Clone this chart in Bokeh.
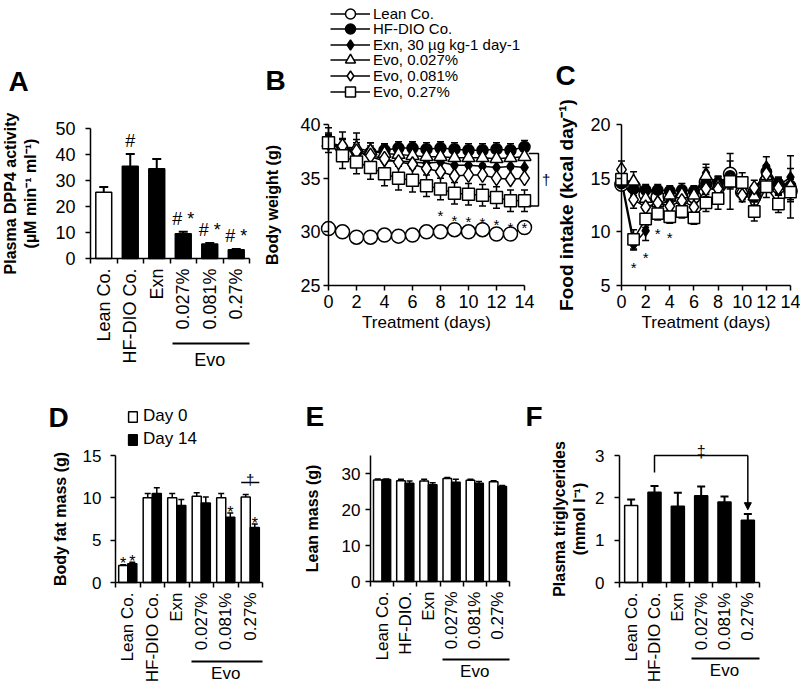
import math
from bokeh.plotting import figure
from bokeh.models import (LinearAxis, FixedTicker, Range1d, Label, Legend, LegendItem,
                          Arrow, NormalHead, Grid)
from bokeh.layouts import row, column
from bokeh.embed import file_html
from bokeh.resources import INLINE
from bokeh.core.properties import value

FONT = "Liberation Sans"

# ---------------- data ----------------
groups = ["Lean Co.", "HF-DIO Co.", "Exn", "0.027%", "0.081%", "0.27%"]
groups_e = ["Lean Co.", "HF-DIO.", "Exn", "0.027%", "0.081%", "0.27%"]
evo_text = "Evo"

# A: plasma DPP4 activity
dpp4_mean = [25.5, 35.5, 34.5, 9.5, 5.6, 3.4]
dpp4_err = [2.0, 4.7, 3.8, 0.8, 0.4, 0.3]
dpp4_sig = ["", "#", "", "# *", "# *", "# *"]
dpp4_ticks = [0, 10, 20, 30, 40, 50]

# B / C: time courses
days = [0, 1, 2, 3, 4, 5, 6, 7, 8, 9, 10, 11, 12, 13, 14]
day_ticks = [0, 2, 4, 6, 8, 10, 12, 14]
series_names = ["Lean Co.", "HF-DIO Co.", "Exn, 30 \u00b5g kg-1 day-1",
                "Evo, 0.027%", "Evo, 0.081%", "Evo, 0.27%"]

bw_lean = [30.3, 30.0, 29.5, 29.5, 29.7, 29.6, 29.7, 30.0, 30.0, 30.2, 30.0, 30.2, 29.8, 29.8, 30.4]
bw_hf = [38.3, 37.6, 37.5, 37.4, 37.6, 37.8, 37.8, 37.7, 37.8, 37.7, 37.6, 37.6, 37.7, 37.6, 37.9]
bw_exn = [38.3, 37.8, 37.5, 37.0, 36.6, 36.6, 36.5, 36.4, 36.5, 36.2, 36.2, 36.1, 36.0, 36.1, 36.0]
bw_e027 = [38.3, 37.9, 37.8, 37.5, 37.3, 37.2, 37.1, 37.0, 37.0, 36.9, 36.9, 36.9, 36.8, 36.9, 37.0]
bw_e081 = [38.3, 38.0, 37.5, 37.1, 36.8, 36.5, 36.3, 35.9, 35.6, 35.2, 35.3, 35.3, 35.0, 34.9, 35.0]
bw_e27 = [38.3, 37.1, 36.5, 36.0, 35.4, 35.0, 34.8, 34.3, 34.0, 33.6, 33.5, 33.4, 33.2, 32.9, 32.9]
bw_err_lean = [0.4, 0.4, 0.4, 0.4, 0.4, 0.4, 0.4, 0.4, 0.4, 0.4, 0.4, 0.4, 0.4, 0.4, 0.4]
bw_err_hf = [0.5, 0.6, 0.6, 0.6, 0.6, 0.6, 0.6, 0.6, 0.6, 0.6, 0.6, 0.6, 0.6, 0.6, 0.6]
bw_err_exn = [0.7, 0.8, 0.8, 0.8, 0.8, 0.8, 0.8, 0.8, 0.8, 0.8, 0.8, 0.8, 0.8, 0.8, 0.8]
bw_err_e027 = [0.8, 0.8, 0.8, 0.8, 0.8, 0.8, 0.8, 0.8, 0.8, 0.8, 0.8, 0.8, 0.8, 0.8, 0.8]
bw_err_e081 = [1.4, 1.3, 1.7, 1.2, 1.1, 1.1, 1.1, 1.1, 1.1, 1.0, 1.0, 1.0, 1.0, 1.0, 1.0]
bw_err_e27 = [0.9, 1.2, 1.1, 1.1, 1.1, 1.1, 1.1, 1.0, 1.0, 1.0, 1.0, 1.0, 1.0, 1.0, 1.0]
bw_star_days = [8, 9, 10, 11, 12, 13, 14]
bw_ticks = [25, 30, 35, 40]

fi_lean = [14.4, 14.2, 13.5, 13.2, 13.3, 13.1, 13.3, 14.6, 14.4, 15.4, 13.7, 13.5, 14.7, 14.2, 13.8]
fi_hf = [14.5, 14.0, 13.9, 13.9, 13.8, 13.9, 13.8, 14.5, 14.5, 15.2, 14.4, 13.5, 15.6, 14.5, 14.3]
fi_exn = [14.6, 8.8, 10.1, 12.5, 12.9, 13.3, 13.5, 15.5, 14.2, 15.0, 14.0, 13.6, 16.1, 14.3, 15.1]
fi_e027 = [14.8, 14.7, 13.1, 12.7, 13.4, 13.5, 13.4, 15.2, 14.3, 14.9, 13.9, 13.3, 15.2, 14.3, 14.0]
fi_e081 = [15.8, 13.0, 12.3, 12.7, 12.4, 12.9, 12.3, 14.0, 14.0, 14.8, 13.4, 14.1, 15.4, 14.1, 14.2]
fi_e27 = [14.9, 9.3, 11.2, 11.7, 11.4, 11.9, 11.3, 12.7, 13.1, 14.7, 14.6, 11.9, 14.2, 12.6, 13.7]
fi_err_lean = [0.5, 0.6, 0.6, 0.6, 0.6, 0.6, 0.6, 0.7, 0.7, 1.2, 0.7, 0.7, 0.8, 0.7, 0.8]
fi_err_hf = [0.6, 0.6, 0.5, 0.5, 0.5, 0.6, 0.5, 0.8, 0.6, 0.7, 0.5, 0.6, 0.6, 0.6, 0.6]
fi_err_exn = [0.7, 0.5, 0.9, 0.8, 0.7, 0.7, 0.7, 0.8, 0.7, 0.8, 0.7, 0.7, 0.9, 0.7, 0.8]
fi_err_e027 = [0.7, 0.9, 0.8, 0.7, 0.7, 0.7, 0.7, 0.8, 0.9, 0.8, 0.7, 0.8, 0.8, 0.7, 0.7]
fi_err_e081 = [0.8, 0.8, 0.7, 0.7, 0.7, 0.7, 0.7, 0.7, 0.8, 0.8, 0.6, 0.7, 0.8, 0.7, 2.9]
fi_err_e27 = [0.8, 0.9, 0.8, 0.6, 0.6, 0.6, 0.6, 0.8, 1.0, 2.6, 0.9, 0.9, 1.0, 0.8, 0.9]
fi_star_exn_days = [1, 2]
fi_star_e27_days = [3, 4]
fi_ticks = [5, 10, 15, 20]

# D: body fat mass
fat_d0 = [2.0, 10.0, 10.0, 10.2, 10.0, 10.1]
fat_d0_err = [0.1, 0.5, 0.5, 0.4, 0.5, 0.3]
fat_d14 = [2.2, 10.5, 9.1, 9.4, 7.7, 6.5]
fat_d14_err = [0.2, 0.7, 0.7, 0.7, 0.5, 0.4]
fat_sig_d0 = ["*", "", "", "", "", ""]
fat_sig_d14 = ["*", "", "", "", "*", "*"]
fat_ticks = [0, 5, 10, 15]
day_labels = ["Day 0", "Day 14"]

# E: lean mass
lean_d0 = [28.2, 28.0, 27.9, 28.6, 28.1, 27.7]
lean_d0_err = [0.3, 0.4, 0.5, 0.3, 0.3, 0.3]
lean_d14 = [28.3, 27.3, 26.9, 27.6, 27.3, 26.4]
lean_d14_err = [0.2, 0.6, 0.5, 0.8, 0.5, 0.3]
lean_ticks = [0, 10, 20, 30]

# F: plasma triglycerides
tg_mean = [1.82, 2.13, 1.80, 2.05, 1.90, 1.47]
tg_err = [0.14, 0.15, 0.32, 0.22, 0.13, 0.15]
tg_ticks = [0, 1, 2, 3]


# ---------------- helpers ----------------
def val(px, va, pa, vb, pb):
    return va + (px - pa) * (vb - va) / (pb - pa)


class Panel:
    def __init__(self, box, xmap, ymap):
        self.x0, self.y0, self.x1, self.y1 = box
        self.xmap, self.ymap = xmap, ymap
        p = figure(width=self.x1 - self.x0, height=self.y1 - self.y0,
                   x_range=Range1d(val(self.x0, *xmap), val(self.x1, *xmap)),
                   y_range=Range1d(val(self.y1, *ymap), val(self.y0, *ymap)),
                   min_border_left=0, min_border_right=0, min_border_top=0, min_border_bottom=0,
                   output_backend="svg", toolbar_location=None, tools="",
                   x_axis_location=None, y_axis_location=None)
        p.title.visible = False
        p.outline_line_color = None
        p.background_fill_color = "white"
        p.border_fill_color = "white"
        p.grid.grid_line_color = None
        p.grid.visible = False
        p.center = [c for c in p.center if not isinstance(c, Grid)]
        p.renderers = [r for r in p.renderers if not isinstance(r, Grid)]
        self.p = p

    def yv(self, px):
        return val(px, *self.ymap)

    def letter(self, txt, x_img, base_img):
        self.p.add_layout(Label(x=x_img - self.x0, y=self.y1 - base_img,
                                x_units="screen", y_units="screen", text=txt,
                                text_font=FONT, text_font_size="28px", text_font_style="bold",
                                text_baseline="alphabetic", text_color="black"))


def style_axis(ax, tick_size, label_size="16px", bold=True):
    ax.axis_line_width = 1.5
    ax.axis_line_color = "black"
    ax.major_tick_line_width = 1.5
    ax.major_tick_line_color = "black"
    ax.minor_tick_line_width = 1.5
    ax.minor_tick_line_color = "black"
    ax.major_tick_in = 0
    ax.major_tick_out = 5
    ax.minor_tick_in = 0
    ax.minor_tick_out = 0
    ax.major_label_text_font = FONT
    ax.major_label_text_font_size = tick_size
    ax.major_label_text_color = "black"
    ax.axis_label_text_font = FONT
    ax.axis_label_text_font_size = label_size
    ax.axis_label_text_font_style = "bold" if bold else "normal"
    ax.axis_label_text_color = "black"


def y_axis(p, ticks, bounds, label, tick_size, standoff, label_standoff, at=0, label_size="16px"):
    ax = LinearAxis(ticker=FixedTicker(ticks=ticks), bounds=bounds, axis_label=label,
                    fixed_location=at)
    style_axis(ax, tick_size, label_size)
    ax.major_label_standoff = standoff
    ax.axis_label_standoff = label_standoff
    p.add_layout(ax, "left")


def x_axis(p, ticks, bounds, label, tick_size, at):
    ax = LinearAxis(ticker=FixedTicker(ticks=ticks), bounds=bounds, axis_label=label,
                    fixed_location=at)
    style_axis(ax, tick_size, "17px", bold=False)
    ax.major_label_standoff = 4
    ax.axis_label_standoff = 2
    p.add_layout(ax, "below")


def cat_axes(p, labels, tick_size, evo_at, evo_bounds, evo_standoff):
    n = len(labels)
    centers = [i + 0.5 for i in range(n)]
    ax = LinearAxis(fixed_location=0, bounds=(0, n),
                    ticker=FixedTicker(ticks=centers, minor_ticks=list(range(n + 1))),
                    major_label_overrides={c: l for c, l in zip(centers, labels)},
                    major_label_orientation=math.pi / 2)
    style_axis(ax, tick_size)
    ax.major_tick_out = 0
    ax.minor_tick_out = 5
    ax.major_label_standoff = 5
    p.add_layout(ax, "below")
    mid = 4.5
    ev = LinearAxis(fixed_location=evo_at, bounds=evo_bounds, ticker=FixedTicker(ticks=[mid]),
                    major_label_overrides={mid: evo_text})
    style_axis(ev, tick_size)
    ev.axis_line_width = 2
    ev.major_tick_out = 0
    ev.major_label_standoff = evo_standoff
    p.add_layout(ev, "below")


def errbars(p, xs, ys, errs, mode, width=1.5, cap=8):
    hi = [y + e for y, e in zip(ys, errs)]
    lo = [y - e for y, e in zip(ys, errs)]
    y0 = lo if mode in ("both", "down") else ys
    y1 = hi if mode in ("both", "up") else ys
    p.segment(x0=xs, y0=y0, x1=xs, y1=y1, line_color="black", line_width=width)
    if mode in ("both", "up"):
        p.scatter(x=xs, y=hi, marker="dash", size=cap, line_color="black", line_width=width)
    if mode in ("both", "down"):
        p.scatter(x=xs, y=lo, marker="dash", size=cap, line_color="black", line_width=width)


def texts(p, xs, ys, txt, size="17px", baseline="alphabetic", align="center"):
    p.text(x=xs, y=ys, text=txt, text_font=value(FONT), text_font_size=value(size),
           text_baseline=baseline, text_align=align, text_color="#000000")


MARKERS = [("circle", 14, "white"), ("circle", 11, "black"), ("diamond", 11, "black"),
           ("triangle", 13, "white"), ("diamond", 15, "white"), ("square", 12, "white")]


def time_series(p, ys_list, err_list, modes, scale=1.0):
    for ys, es, m in zip(ys_list, err_list, modes):
        errbars(p, days, ys, es, m, width=1.5, cap=7)
    lines = [p.line(x=days, y=ys, line_color="black", line_width=1.5) for ys in ys_list]
    marks = []
    for ys, (mk, sz, fc) in zip(ys_list, MARKERS):
        marks.append(p.scatter(x=days, y=ys, marker=mk, size=sz * scale, fill_color=fc,
                               line_color="black", line_width=1.5))
    return lines, marks


centers = [i + 0.5 for i in range(len(groups))]
fills = ["white" if i == 0 else "black" for i in range(len(groups))]
EVO_B = (3.1, 6.0)
BW2 = 0.37
x_w = [c - BW2 / 2 for c in centers]
x_b = [c + BW2 / 2 for c in centers]

# ---------------- A ----------------
A = Panel((0, 0, 262, 400), (0, 90, 6, 249), (0, 258, 50, 128))
pa = A.p
pa.vbar(x=centers, top=dpp4_mean, width=0.6, fill_color=fills, line_color="black", line_width=1.5)
errbars(pa, centers, dpp4_mean, dpp4_err, "up", width=2, cap=9)
texts(pa, centers, [m + e + 5 for m, e in zip(dpp4_mean, dpp4_err)], dpp4_sig, size="18px")
y_axis(pa, dpp4_ticks, (0, 50), "Plasma DPP4 activity\n(\u00b5M min\u207b\u00b9 ml\u207b\u00b9)",
       "18px", 10, 13)
cat_axes(pa, groups, "18px", A.yv(343), EVO_B, 6)
A.letter("A", 8, 81)

# ---------------- B ----------------
B = Panel((262, 0, 552, 400), (0, 328, 14, 524), (25, 285, 40, 124))
pb = B.p
bw_all = [bw_lean, bw_hf, bw_exn, bw_e027, bw_e081, bw_e27]
bw_errs = [bw_err_lean, bw_err_hf, bw_err_exn, bw_err_e027, bw_err_e081, bw_err_e27]
lines_b, marks_b = time_series(pb, bw_all, bw_errs, ["both", "up", "up", "up", "up", "both"])
texts(pb, bw_star_days, [bw_e27[d] - bw_err_e27[d] - 1.5 for d in bw_star_days],
      ["*"] * len(bw_star_days), size="15px")
bx0, bx1 = days[-1] + 0.3, days[-1] + 1.0
btop, bbot = bw_hf[-1] - 0.6, bw_e27[-1] - 0.5
pb.line(x=[bx0, bx1, bx1, bx0], y=[btop, btop, bbot, bbot], line_color="black", line_width=1.5)
texts(pb, [bx1 + 0.55], [(btop + bbot) / 2], ["\u2020"], size="15px", baseline="middle")
y_axis(pb, bw_ticks, (25, 40), "Body weight (g)", "18px", 3, 16)
x_axis(pb, day_ticks, (0, 14), "Treatment (days)", "18px", 25)
# one legend per row so that rows can sit closer than the marker box
ROW_H, PITCH, FIRST = 25, 15.6, 13
for i, (n, l, m) in enumerate(zip(series_names, lines_b, marks_b)):
    lg = Legend(items=[LegendItem(label=n, renderers=[l, m])],
                location=(330 - B.x0, B.y1 - (FIRST + PITCH * i + ROW_H / 2)),
                margin=0, padding=0, spacing=0,
                glyph_width=40, glyph_height=ROW_H, label_height=ROW_H, label_standoff=3,
                border_line_color=None, background_fill_alpha=0,
                label_text_font=FONT, label_text_font_size="15px", label_text_color="black")
    pb.add_layout(lg)
B.letter("B", 265, 80)

# ---------------- C ----------------
C = Panel((552, 0, 800, 400), (0, 621, 14, 790), (5, 285, 20, 124))
pc = C.p
fi_all = [fi_lean, fi_hf, fi_exn, fi_e027, fi_e081, fi_e27]
fi_errs = [fi_err_lean, fi_err_hf, fi_err_exn, fi_err_e027, fi_err_e081, fi_err_e27]
time_series(pc, fi_all, fi_errs, ["both"] * 6, scale=0.95)
texts(pc, fi_star_exn_days, [fi_exn[d] - fi_err_exn[d] - 1.6 for d in fi_star_exn_days],
      ["*"] * len(fi_star_exn_days), size="15px")
texts(pc, fi_star_e27_days, [fi_e27[d] - fi_err_e27[d] - 1.3 for d in fi_star_e27_days],
      ["*"] * len(fi_star_e27_days), size="15px")
y_axis(pc, fi_ticks, (5, 20), "Food intake (kcal day\u207b\u00b9)", "18px", 6, 10,
       label_size="19px")
x_axis(pc, day_ticks, (0, 14), "Treatment (days)", "18px", 5)
C.letter("C", 555, 75)

# ---------------- D ----------------
D = Panel((0, 400, 270, 687), (0, 115, 6, 262), (0, 582, 15, 455))
pdd = D.p
rw = pdd.vbar(x=x_w, top=fat_d0, width=BW2, fill_color="white", line_color="black", line_width=1.5)
rb = pdd.vbar(x=x_b, top=fat_d14, width=BW2, fill_color="black", line_color="black", line_width=1.5)
errbars(pdd, x_w, fat_d0, fat_d0_err, "up", width=1.5, cap=6)
errbars(pdd, x_b, fat_d14, fat_d14_err, "up", width=1.5, cap=6)
texts(pdd, x_w, [m + e + 0.1 for m, e in zip(fat_d0, fat_d0_err)], fat_sig_d0, size="16px")
texts(pdd, x_b, [m + e + 0.1 for m, e in zip(fat_d14, fat_d14_err)], fat_sig_d14, size="16px")
dl, dr = x_w[5] - BW2 / 2, x_b[5] + BW2 / 2
dy = fat_d0[5] + fat_d0_err[5] + 1.4
pdd.line(x=[dl, dr], y=[dy, dy], line_color="black", line_width=1.5)
texts(pdd, [(dl + dr) / 2], [dy + 0.4], ["\u2020"], size="15px")
y_axis(pdd, fat_ticks, (0, 15), "Body fat mass (g)", "17px", 9, 11)
cat_axes(pdd, groups, "17px", D.yv(661), EVO_B, 2)
legd = Legend(items=[LegendItem(label=day_labels[0], renderers=[rw]),
                     LegendItem(label=day_labels[1], renderers=[rb])],
              location=(127 - D.x0, D.y1 - 449), margin=0, padding=0, spacing=3,
              glyph_width=11, glyph_height=13, label_height=13, label_standoff=5,
              border_line_color=None, background_fill_alpha=0,
              label_text_font=FONT, label_text_font_size="17px", label_text_color="black")
pdd.add_layout(legd)
D.letter("D", 48, 417)

# ---------------- E ----------------
E = Panel((270, 400, 522, 687), (0, 370, 6, 509), (0, 581, 30, 473))
pe = E.p
pe.vbar(x=x_w, top=lean_d0, width=BW2, fill_color="white", line_color="black", line_width=1.5)
pe.vbar(x=x_b, top=lean_d14, width=BW2, fill_color="black", line_color="black", line_width=1.5)
errbars(pe, x_w, lean_d0, lean_d0_err, "up", width=1.5, cap=6)
errbars(pe, x_b, lean_d14, lean_d14_err, "up", width=1.5, cap=6)
y_axis(pe, lean_ticks, (0, 35), "Lean mass (g)", "17px", 5, 18)
cat_axes(pe, groups_e, "17px", E.yv(659), EVO_B, 2)
E.letter("E", 305, 416)

# ---------------- F ----------------
F = Panel((522, 400, 800, 687), (0, 619, 6, 759), (0, 582, 3, 455))
pf = F.p
pf.vbar(x=centers, top=tg_mean, width=0.56, fill_color=fills, line_color="black", line_width=1.5)
errbars(pf, centers, tg_mean, tg_err, "up", width=2, cap=8)
fl_x, fr_x = centers[1], centers[5]
ftop = max(m + e for m, e in zip(tg_mean, tg_err)) + 0.72
pf.line(x=[fl_x, fl_x, fr_x], y=[tg_mean[1] + tg_err[1] + 0.32, ftop, ftop],
        line_color="black", line_width=1.5)
pf.add_layout(Arrow(end=NormalHead(size=7, fill_color="black", line_color="black"),
                    x_start=fr_x, y_start=ftop, x_end=fr_x, y_end=tg_mean[5] + tg_err[5] + 0.1,
                    line_color="black", line_width=1.5))
texts(pf, [(fl_x + fr_x) / 2], [ftop + 0.1], ["\u2021"], size="16px")
y_axis(pf, tg_ticks, (0, 3), "Plasma triglycerides\n(mmol l\u207b\u00b9)", "17px", 10, 4)
cat_axes(pf, groups, "17px", F.yv(658), EVO_B, 2)
F.letter("F", 525, 416)

layout = column(row(pa, pb, pc), row(pdd, pe, pf))
open("out.html", "w").write(file_html(layout, INLINE))
